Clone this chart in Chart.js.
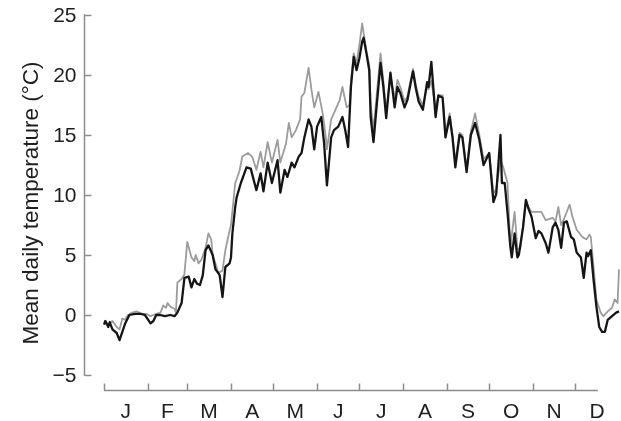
<!DOCTYPE html>
<html>
<head>
<meta charset="utf-8">
<style>html,body{margin:0;padding:0;background:#fff}canvas{display:block}</style>
<script src="https://cdn.jsdelivr.net/npm/chart.js@4/dist/chart.umd.min.js"></script>
</head>
<body>
<canvas id="c" width="621" height="421"></canvas>
<script>
// Day of year (0 = 1 Jan) and mean daily temperature (°C)
const blackDays = [0,1,3,4,6,9,11,13,15,18,22,26,29,33,35,37,40,43,47,50,52,55,57,60,62,64,66,68,70,72,74,77,79,81,82,84,86,89,90,91,93,94,97,101,104,108,111,113,116,119,123,125,128,130,133,135,138,140,142,145,147,149,151,154,156,158,161,163,166,169,171,173,175,177,179,181,183,184,186,188,189,191,193,196,198,200,203,206,208,210,213,215,219,221,223,226,229,230,232,235,237,240,242,245,247,249,252,254,257,260,263,266,269,273,276,278,281,282,284,286,288,289,291,293,294,297,299,301,303,306,308,310,313,315,318,320,322,324,326,328,331,333,335,338,340,342,343,345,347,349,351,353,355,357,359,363,365];
const blackTemps = [-0.8,-0.5,-1.0,-0.6,-1.2,-1.5,-2.1,-1.4,-0.7,0.0,0.1,0.1,0.0,-0.7,-0.5,0.0,0.0,-0.1,0.0,-0.1,0.2,1.0,3.1,3.2,2.3,3.0,2.6,2.5,3.3,5.4,5.8,5.0,3.8,3.5,3.3,1.5,4.0,4.3,4.8,6.8,9.0,9.8,11.0,12.3,12.2,10.4,11.8,10.3,12.7,11.0,12.9,10.2,12.1,11.5,12.7,12.3,13.2,13.5,14.8,16.3,15.7,13.8,15.7,16.5,14.3,10.8,14.8,15.4,15.7,16.5,15.4,14.0,19.0,21.5,20.4,21.4,22.8,23.1,21.8,20.4,16.5,14.4,17.1,21.0,19.0,16.4,20.2,17.3,19.0,18.5,17.3,17.9,20.3,18.9,17.8,17.1,19.4,19.0,21.1,16.5,18.3,18.1,14.8,16.5,14.8,12.3,15.0,14.8,11.9,15.0,16.0,14.6,12.5,13.5,9.4,10.1,15.0,11.0,11.0,8.5,5.7,4.8,6.8,4.8,5.0,7.3,9.6,8.8,8.2,6.4,7.0,6.8,6.0,5.2,7.3,7.7,7.1,5.6,7.7,7.8,6.5,6.3,5.2,4.8,3.1,5.2,4.9,5.4,2.9,0.7,-1.0,-1.4,-1.4,-0.4,-0.2,0.2,0.3];

const grayDays = [0,3,6,9,11,13,15,17,20,23,27,30,33,35,37,40,42,44,45,47,50,51,52,55,57,59,62,64,65,67,69,72,74,76,77,79,81,84,86,88,90,93,96,98,102,105,108,111,113,116,119,123,125,129,131,133,136,139,140,142,145,147,149,152,155,157,158,161,164,167,169,172,174,175,177,179,181,183,184,186,188,189,191,193,196,198,200,203,206,208,210,213,215,219,221,223,226,229,230,232,235,237,240,242,245,247,249,252,254,257,260,263,266,269,273,276,278,281,283,286,288,291,293,295,297,299,303,306,310,313,318,320,322,324,326,330,332,335,339,342,344,345,347,349,352,354,357,360,362,364,365];
const grayTemps = [-0.5,-0.8,-0.5,-1.0,-1.2,-0.3,-0.4,0.0,0.2,0.3,0.1,0.1,-0.1,0.0,0.1,0.2,0.8,0.6,1.0,0.7,0.5,0.2,2.7,3.0,3.4,6.1,4.8,4.5,5.0,4.3,4.6,5.6,6.8,6.3,5.0,4.3,3.5,3.7,5.4,6.5,7.5,11.0,12.0,13.2,13.5,13.2,12.1,13.6,12.3,14.4,12.7,14.6,12.7,14.3,16.0,14.8,15.4,16.3,18.2,18.5,20.6,18.8,17.3,18.6,16.8,15.0,13.8,16.3,17.1,17.9,19.0,17.3,17.5,19.5,21.8,21.0,22.5,24.3,23.5,22.0,20.8,17.5,15.5,18.0,21.8,19.5,17.0,20.0,18.0,19.6,19.0,17.8,18.2,20.5,19.2,18.2,17.5,19.0,18.8,19.5,17.2,18.3,18.3,15.2,16.8,15.0,12.8,15.2,15.0,12.2,15.3,16.8,15.0,13.0,13.5,10.1,10.5,12.9,12.3,11.0,5.7,8.6,5.5,5.5,7.5,9.3,8.6,8.6,8.6,7.9,8.1,7.8,9.0,7.5,8.0,9.2,8.2,7.1,6.5,6.3,6.7,6.5,4.0,1.3,0.2,-0.1,0.3,0.6,1.3,1.0,3.8];

const monthLabels = ['J','F','M','A','M','J','J','A','S','O','N','D'];
const monthStarts = [0,31,59,90,120,151,181,212,243,273,304,334];
const monthLengths = [31,28,31,30,31,30,31,31,30,31,30,31];
const yTickValues = [-5,0,5,10,15,20,25];
const yTitle = 'Mean daily temperature (°C)';

function pts(xs, ys){ return xs.map((d,i)=>({x:d, y:ys[i]})); }

const AXIS = '#8c8c8c';
const TEXT = '#1e1e1e';
const FONT = '"Liberation Sans", Arial, sans-serif';

const axesPlugin = {
  id: 'customAxes',
  afterDraw(chart){
    const ctx = chart.ctx, xs = chart.scales.x, ys = chart.scales.y;
    ctx.save();
    ctx.strokeStyle = AXIS; ctx.lineWidth = 1.5; ctx.lineCap = 'butt';
    // y axis (offset to the left of the data)
    const ax = Math.round(xs.getPixelForValue(-14)) + 0.5;
    const yTop = ys.getPixelForValue(25), yBot = ys.getPixelForValue(-5);
    ctx.beginPath(); ctx.moveTo(ax, yTop - 0.75); ctx.lineTo(ax, yBot + 0.75); ctx.stroke();
    ctx.fillStyle = TEXT; ctx.font = '21px ' + FONT;
    ctx.textAlign = 'right'; ctx.textBaseline = 'middle';
    yTickValues.forEach(v => {
      const py = Math.round(ys.getPixelForValue(v)) + 0.5;
      ctx.beginPath(); ctx.moveTo(ax, py); ctx.lineTo(ax + 7, py); ctx.stroke();
      const lbl = v < 0 ? '\u2212' + Math.abs(v) : String(v);
      ctx.fillText(lbl, ax - 8, py + 1);
    });
    // x axis (offset below the data)
    const bY = Math.round(ys.getPixelForValue(-5)) + 15.5;
    const x0 = xs.getPixelForValue(0), x1 = xs.getPixelForValue(350);
    ctx.beginPath(); ctx.moveTo(x0, bY); ctx.lineTo(x1, bY); ctx.stroke();
    ctx.textAlign = 'center'; ctx.textBaseline = 'alphabetic';
    monthStarts.forEach((d, i) => {
      const px = Math.round(xs.getPixelForValue(d)) + 0.5;
      ctx.beginPath(); ctx.moveTo(px, bY); ctx.lineTo(px, bY - 7); ctx.stroke();
      const mid = xs.getPixelForValue(d + monthLengths[i] / 2);
      ctx.fillText(monthLabels[i], mid, bY + 27);
    });
    // y title
    ctx.save();
    ctx.translate(38, (yTop + yBot) / 2 + 8);
    ctx.rotate(-Math.PI / 2);
    ctx.font = '22.5px ' + FONT;
    ctx.textAlign = 'center'; ctx.textBaseline = 'alphabetic';
    ctx.fillText(yTitle, 0, 0);
    ctx.restore();
    ctx.restore();
  }
};

new Chart(document.getElementById('c'), {
  type: 'line',
  data: {
    datasets: [
      { label: 'black', data: pts(blackDays, blackTemps), borderColor: '#151515', borderWidth: 2.3, order: 0 },
      { label: 'gray', data: pts(grayDays, grayTemps), borderColor: '#9c9c9c', borderWidth: 1.8, order: 1 }
    ]
  },
  options: {
    responsive: false, animation: false, devicePixelRatio: 1,
    layout: { padding: { left: 104, right: 2, top: 15, bottom: 46 } },
    elements: { point: { radius: 0 }, line: { tension: 0, borderJoinStyle: 'round', capBezierPoints: false } },
    datasets: { line: { clip: false, fill: false } },
    scales: {
      x: { type: 'linear', min: 0, max: 365, display: false },
      y: { type: 'linear', min: -5, max: 25, display: false }
    },
    plugins: { legend: { display: false }, tooltip: { enabled: false } }
  },
  plugins: [axesPlugin]
});
</script>
</body>
</html>
